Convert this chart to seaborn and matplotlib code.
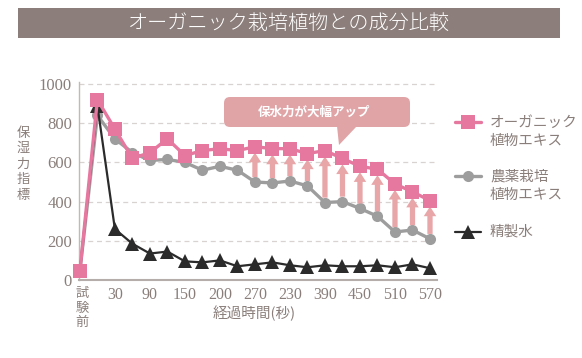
import matplotlib
matplotlib.use("Agg")
import matplotlib.pyplot as plt
import seaborn as sns
from matplotlib.patches import Rectangle, FancyBboxPatch, Polygon
from matplotlib.lines import Line2D

# data
time_idx = list(range(21))
tick_pos = [2, 4, 6, 8, 10, 12, 14, 16, 18, 20]
tick_labels = ['30', '90', '150', '200', '270', '230', '390', '450', '510', '570']
organic = [45, 920, 770, 620, 650, 720, 635, 660, 670, 660, 680, 670, 670,
           645, 660, 620, 580, 565, 490, 450, 405]
pesticide = [45, 840, 720, 650, 610, 615, 600, 560, 580, 560, 500, 495, 505,
             480, 395, 400, 365, 325, 245, 255, 210]
water = [45, 890, 260, 185, 135, 145, 95, 90, 100, 70, 80, 90, 75,
         65, 75, 70, 70, 75, 65, 80, 60]
arrow_idx = list(range(10, 21))
series_names = ['オーガニック\n植物エキス', '農薬栽培\n植物エキス', '精製水']

PINK = '#e6779f'
GRAY = '#9d9d9d'
BLACK = '#2b2b2b'
TXT = '#8a7e7a'
ARROW = '#e8a6a9'
BOX = '#e0a4a7'

sns.set_style('white')
plt.rcParams['font.family'] = ['Noto Sans CJK JP', 'DejaVu Sans']

W, H = 582, 358
fig = plt.figure(figsize=(W / 100, H / 100), dpi=100)


def P(x, y):
    # pixel position (top-left origin) -> inches for dpi_scale_trans
    return x / 100, (H - y) / 100


inch = fig.dpi_scale_trans

# title banner
fig.add_artist(Rectangle(P(18, 38), 5.42, 0.30, transform=inch,
                         facecolor='#8c7e7a', edgecolor='none'))
fig.text(*P(289, 23), 'オーガニック栽培植物との成分比較', transform=inch,
         ha='center', va='center', color='white', fontsize=14.5, fontweight='light')

ax = fig.add_axes([79 / W, 1 - 280 / H, 358 / W, 198 / H])
ax.set_xlim(-0.05, 20.4)
ax.set_ylim(0, 1010)

for yv in [200, 400, 600, 800, 1000]:
    ax.axhline(yv, color='#d8d3d1', lw=0.9, ls=(0, (4, 3)), zorder=0)

sns.lineplot(x=time_idx, y=water, marker='^', markersize=10, color=BLACK,
             linewidth=1.6, markeredgewidth=0, zorder=3, clip_on=False, ax=ax)
sns.lineplot(x=time_idx, y=pesticide, marker='o', markersize=8, color=GRAY,
             linewidth=2.4, markeredgewidth=0, zorder=2, clip_on=False, ax=ax)
sns.lineplot(x=time_idx, y=organic, marker='s', markersize=10, color=PINK,
             linewidth=2.4, markeredgewidth=0, zorder=5, clip_on=False, ax=ax)

# arrows from gray to pink
for i in arrow_idx:
    ax.annotate('', xy=(i, organic[i] - 30), xytext=(i, pesticide[i] + 25),
                arrowprops=dict(arrowstyle='simple,head_length=0.7,head_width=0.9,tail_width=0.38',
                                color=ARROW, lw=0, shrinkA=0, shrinkB=0), zorder=4)

for s in ['top', 'right']:
    ax.spines[s].set_visible(False)
ax.spines['left'].set_color('#c2b9b6')
ax.spines['bottom'].set_color('#b5adaa')
ax.spines['left'].set_linewidth(1.0)
ax.spines['bottom'].set_linewidth(1.5)

ax.set_yticks([0, 200, 400, 600, 800, 1000])
ax.set_yticklabels(['0', '200', '400', '600', '800', '1000'],
                   fontfamily='Liberation Serif', fontsize=12, color=TXT)
ax.set_xticks(tick_pos)
ax.set_xticklabels(tick_labels, fontfamily='Liberation Serif', fontsize=11.5, color=TXT)
ax.tick_params(length=0, pad=5)
ax.set_xlabel('')
ax.set_ylabel('')

fig.text(*P(82, 308), '試\n験\n前', transform=inch, ha='center', va='center',
         color=TXT, fontsize=9.5, linespacing=1.15)
fig.text(*P(254, 313), '経過時間(秒)', transform=inch, ha='center', va='center',
         color=TXT, fontsize=10.5)
fig.text(*P(23, 164), '\n'.join('保湿力指標'), transform=inch, ha='center', va='center',
         color=TXT, fontsize=9.5, linespacing=1.25)

# callout box
fig.add_artist(FancyBboxPatch(P(224, 127), 1.86, 0.30, transform=inch,
                              boxstyle='round,pad=0,rounding_size=0.06',
                              facecolor=BOX, edgecolor='none'))
fig.add_artist(Polygon([P(337, 126), P(357, 126), P(339, 145)], closed=True,
                       transform=inch, facecolor=BOX, edgecolor='none'))
fig.text(*P(314, 112), '保水力が大幅アップ', transform=inch, ha='center', va='center',
         color='white', fontsize=9, fontweight='bold')

# legend
legend_rows = [(PINK, 's', 10, 2.4, 122, 132),
               (GRAY, 'o', 8, 2.4, 176, 186),
               (BLACK, '^', 10, 1.6, 232, 232)]
for (c, m, ms, lw, ly, ty), name in zip(legend_rows, series_names):
    x0, y0 = P(455, ly)
    x1, _ = P(481, ly)
    fig.add_artist(Line2D([x0, x1], [y0, y0], transform=inch, color=c, lw=lw))
    fig.add_artist(Line2D([(x0 + x1) / 2], [y0], transform=inch, color=c,
                          marker=m, markersize=ms, markeredgewidth=0, lw=0))
    fig.text(*P(490, ty), name, transform=inch, ha='left', va='center',
             color=TXT, fontsize=10.5, linespacing=1.4)

fig.savefig('out.png', dpi=100)
